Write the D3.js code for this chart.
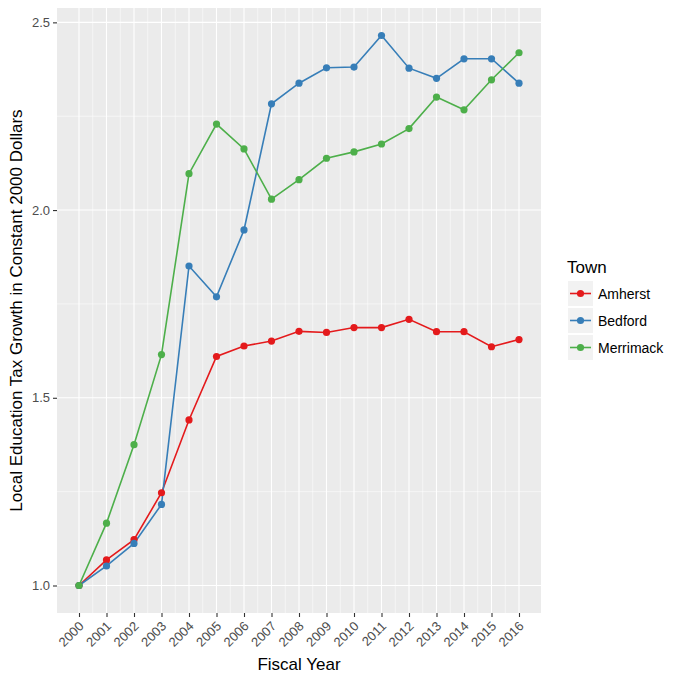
<!DOCTYPE html>
<html>
<head>
<meta charset="utf-8">
<script src="https://cdnjs.cloudflare.com/ajax/libs/d3/7.8.5/d3.min.js"></script>
<style>
  body { margin: 0; background: #fff; }
  text { font-family: "Liberation Sans", Arial, sans-serif; }
</style>
</head>
<body>
<div id="chart"></div>
<script>
const years = [2000, 2001, 2002, 2003, 2004, 2005, 2006, 2007, 2008, 2009, 2010, 2011, 2012, 2013, 2014, 2015, 2016];
const towns = ['Amherst', 'Bedford', 'Merrimack'];
const amherst = [1.0, 1.068, 1.122, 1.247, 1.441, 1.610, 1.638, 1.651, 1.677, 1.674, 1.687, 1.687, 1.709, 1.676, 1.676, 1.636, 1.655];
const bedford = [1.0, 1.052, 1.112, 1.216, 1.851, 1.769, 1.947, 2.283, 2.338, 2.379, 2.381, 2.465, 2.378, 2.351, 2.403, 2.403, 2.338];
const merrimack = [1.0, 1.166, 1.375, 1.615, 2.097, 2.229, 2.163, 2.029, 2.081, 2.138, 2.155, 2.176, 2.217, 2.301, 2.267, 2.347, 2.419];
const yTicks = [1.0, 1.5, 2.0, 2.5];
const townColors = ['#E41A1C', '#377EB8', '#4DAF4A'];

const series = [amherst, bedford, merrimack];

const width = 680, height = 680;
const panel = { left: 57, top: 8, right: 541, bottom: 613 };

const svg = d3.select('#chart').append('svg')
    .attr('width', width)
    .attr('height', height);

// continuous scales with ggplot's 5% expansion
const xPad = (years[years.length - 1] - years[0]) * 0.05;
const xScale = d3.scaleLinear()
    .domain([years[0] - xPad, years[years.length - 1] + xPad])
    .range([panel.left, panel.right]);

const allVals = [].concat(...series);
const yMin = d3.min(allVals), yMax = d3.max(allVals);
const yPad = (yMax - yMin) * 0.05;
const yScale = d3.scaleLinear()
    .domain([yMin - yPad, yMax + yPad])
    .range([panel.bottom, panel.top]);

// panel background
svg.append('rect')
    .attr('x', panel.left).attr('y', panel.top)
    .attr('width', panel.right - panel.left)
    .attr('height', panel.bottom - panel.top)
    .attr('fill', '#EBEBEB');

// minor grid
const xMinor = years.slice(0, -1).map(y => y + 0.5);
const yMinor = yTicks.slice(0, -1).map(v => v + 0.25);
svg.selectAll('.xminor').data(xMinor).enter().append('line')
    .attr('x1', d => xScale(d)).attr('x2', d => xScale(d))
    .attr('y1', panel.top).attr('y2', panel.bottom)
    .attr('stroke', '#fff').attr('stroke-width', 0.55);
svg.selectAll('.yminor').data(yMinor).enter().append('line')
    .attr('y1', d => yScale(d)).attr('y2', d => yScale(d))
    .attr('x1', panel.left).attr('x2', panel.right)
    .attr('stroke', '#fff').attr('stroke-width', 0.55);

// major grid
svg.selectAll('.xmajor').data(years).enter().append('line')
    .attr('x1', d => xScale(d)).attr('x2', d => xScale(d))
    .attr('y1', panel.top).attr('y2', panel.bottom)
    .attr('stroke', '#fff').attr('stroke-width', 1.1);
svg.selectAll('.ymajor').data(yTicks).enter().append('line')
    .attr('y1', d => yScale(d)).attr('y2', d => yScale(d))
    .attr('x1', panel.left).attr('x2', panel.right)
    .attr('stroke', '#fff').attr('stroke-width', 1.1);

// axes
const xAxis = svg.append('g')
    .attr('transform', `translate(0,${panel.bottom})`)
    .call(d3.axisBottom(xScale).tickValues(years).tickFormat(d3.format('d')).tickSize(4).tickPadding(3));
xAxis.select('.domain').remove();
xAxis.selectAll('line').attr('stroke', '#333333').attr('stroke-width', 1.1);
xAxis.selectAll('text')
    .attr('fill', '#4D4D4D')
    .style('font-size', '13px')
    .attr('text-anchor', 'end')
    .attr('dy', null)
    .attr('y', 0)
    .attr('transform', 'translate(5,14) rotate(-45)');

const yAxis = svg.append('g')
    .attr('transform', `translate(${panel.left},0)`)
    .call(d3.axisLeft(yScale).tickValues(yTicks).tickFormat(d3.format('.1f')).tickSize(4).tickPadding(3));
yAxis.select('.domain').remove();
yAxis.selectAll('line').attr('stroke', '#333333').attr('stroke-width', 1.1);
yAxis.selectAll('text')
    .attr('fill', '#4D4D4D')
    .style('font-size', '13px');

// lines and points
const line = d3.line()
    .x((d, i) => xScale(years[i]))
    .y(d => yScale(d));

series.forEach((vals, s) => {
    svg.append('path')
        .datum(vals)
        .attr('d', line)
        .attr('fill', 'none')
        .attr('stroke', townColors[s])
        .attr('stroke-width', 1.6);
});
series.forEach((vals, s) => {
    svg.selectAll('.pt' + s).data(vals).enter().append('circle')
        .attr('cx', (d, i) => xScale(years[i]))
        .attr('cy', d => yScale(d))
        .attr('r', 3.6)
        .attr('fill', townColors[s]);
});

// axis titles
svg.append('text')
    .attr('x', (panel.left + panel.right) / 2)
    .attr('y', 670)
    .attr('text-anchor', 'middle')
    .style('font-size', '17px')
    .text('Fiscal Year');

svg.append('text')
    .attr('transform', `translate(22,${(panel.top + panel.bottom) / 2}) rotate(-90)`)
    .attr('text-anchor', 'middle')
    .style('font-size', '17px')
    .text('Local Education Tax Growth in Constant 2000 Dollars');

// legend
const legend = svg.append('g').attr('transform', 'translate(567,256)');
legend.append('text')
    .attr('x', 0).attr('y', 17)
    .style('font-size', '17px')
    .text('Town');

const keySize = 25;
towns.forEach((t, i) => {
    const g = legend.append('g').attr('transform', `translate(1,${25 + i * (keySize + 2)})`);
    g.append('rect')
        .attr('width', keySize).attr('height', keySize)
        .attr('fill', '#F2F2F2');
    g.append('line')
        .attr('x1', 2).attr('x2', keySize - 2)
        .attr('y1', keySize / 2).attr('y2', keySize / 2)
        .attr('stroke', townColors[i]).attr('stroke-width', 1.6);
    g.append('circle')
        .attr('cx', keySize / 2).attr('cy', keySize / 2)
        .attr('r', 3.6).attr('fill', townColors[i]);
    g.append('text')
        .attr('x', keySize + 5).attr('y', keySize / 2 + 5)
        .style('font-size', '14px')
        .text(t);
});
</script>
</body>
</html>
